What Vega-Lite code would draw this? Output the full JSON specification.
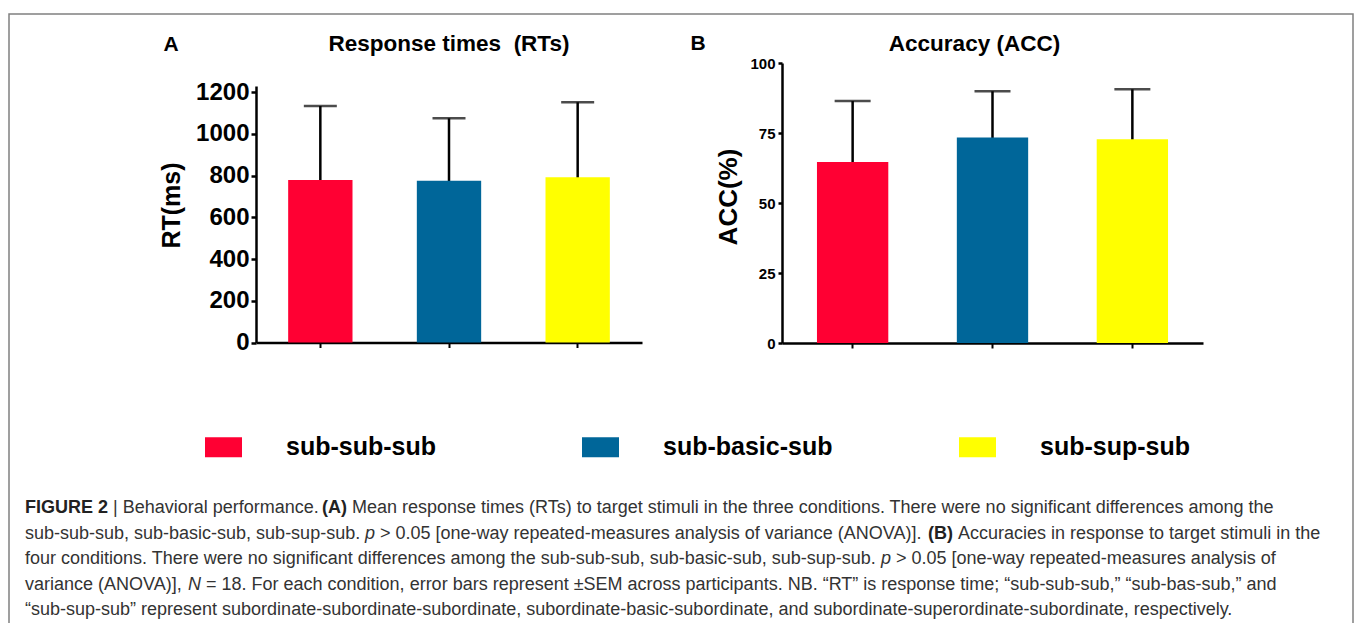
{
  "$schema": "https://vega.github.io/schema/vega-lite/v6.json",
  "width": 1344,
  "height": 620,
  "autosize": {"type": "none"},
  "padding": {"left": 9, "top": 14, "right": 2, "bottom": 0},
  "background": "white",
  "datasets": {
    "bars": [
      {"panel": "RT", "cond": "sub-sub-sub", "mean": 779, "sem": 355},
      {"panel": "RT", "cond": "sub-basic-sub", "mean": 776, "sem": 299},
      {"panel": "RT", "cond": "sub-sup-sub", "mean": 792, "sem": 360},
      {"panel": "ACC", "cond": "sub-sub-sub", "mean": 64.6, "sem": 21.8},
      {"panel": "ACC", "cond": "sub-basic-sub", "mean": 73.4, "sem": 16.5},
      {"panel": "ACC", "cond": "sub-sup-sub", "mean": 72.8, "sem": 17.8}
    ]
  },
  "layer": [
    {
      "data": {"name": "bars"},
      "transform": [{"filter": "datum.panel === 'RT'"}],
      "mark": {"type": "errorbar", "ticks": true, "size": 33, "thickness": 2.5, "color": "black"},
      "encoding": {
        "x": {"field": "cond", "type": "nominal",
          "scale": {"type": "band", "domain": ["sub-sub-sub", "sub-basic-sub", "sub-sup-sub"], "range": [247, 633], "paddingInner": 0.5, "paddingOuter": 0.25},
          "axis": {"orient": "bottom", "offset": -291.5, "domain": false, "ticks": false, "labels": false, "grid": false,
            "title": "A", "titleX": 161.5, "titleY": -298.5, "titleAngle": 0, "titleAlign": "center", "titleBaseline": "middle",
            "titleFont": "Liberation Sans", "titleFontSize": 21, "titleFontWeight": "bold", "titleColor": "black"}},
        "y": {"field": "mean", "type": "quantitative", "scale": {"domain": [0, 1230], "range": [328.5, 72], "nice": false}, "axis": null},
        "yError": {"field": "sem"}
      }
    },
    {
      "data": {"name": "bars"},
      "transform": [{"filter": "datum.panel === 'RT'"}],
      "mark": {"type": "bar"},
      "encoding": {
        "x": {"field": "cond", "type": "nominal",
          "scale": {"type": "band", "domain": ["sub-sub-sub", "sub-basic-sub", "sub-sup-sub"], "range": [247, 633], "paddingInner": 0.5, "paddingOuter": 0.25},
          "axis": {"orient": "bottom", "offset": -291.5, "labels": false, "grid": false,
            "domainColor": "black", "domainWidth": 2.5, "tickColor": "black", "tickWidth": 2, "tickSize": 5,
            "title": "Response times\u00a0 (RTs)", "titleX": 439.5, "titleY": -299.5, "titleAngle": 0, "titleAlign": "center", "titleBaseline": "middle",
            "titleFont": "Liberation Sans", "titleFontSize": 22.5, "titleFontWeight": "bold", "titleColor": "black"}},
        "y": {"field": "mean", "type": "quantitative",
          "scale": {"domain": [0, 1230], "range": [328.5, 72], "nice": false},
          "axis": {"orient": "left", "offset": -247, "values": [0, 200, 400, 600, 800, 1000, 1200], "format": "d", "grid": false,
            "labelFont": "Liberation Sans", "labelFontSize": 24, "labelFontWeight": "bold", "labelColor": "black", "labelPadding": 2, "labelOverlap": false, "labelFlush": false,
            "tickSize": 5, "tickWidth": 2.5, "tickColor": "black", "domainColor": "black", "domainWidth": 2.5,
            "title": "RT(ms)", "titleX": -84.5, "titleY": 191, "titleAngle": -90, "titleAlign": "center", "titleBaseline": "middle",
            "titleFont": "Liberation Sans", "titleFontSize": 25, "titleFontWeight": "bold", "titleColor": "black"}},
        "color": {"field": "cond", "type": "nominal",
          "scale": {"domain": ["sub-sub-sub", "sub-basic-sub", "sub-sup-sub"], "range": ["#FF0033", "#006699", "#FFFF00"]},
          "legend": {"orient": "none", "legendX": 196, "legendY": 414.5, "direction": "horizontal", "columns": 3, "title": null, "gridAlign": "all",
            "symbolType": "M-1,-0.54H1V0.54H-1Z", "symbolSize": 1369, "symbolStrokeWidth": 0, "symbolOpacity": 1,
            "labelFont": "Liberation Sans", "labelFontSize": 25, "labelFontWeight": "bold", "labelColor": "black", "labelOffset": 44, "labelLimit": 400,
            "columnPadding": 126, "padding": 0}}
      }
    },
    {
      "data": {"name": "bars"},
      "transform": [{"filter": "datum.panel === 'ACC'"}],
      "mark": {"type": "errorbar", "ticks": true, "size": 36, "thickness": 2.5, "color": "black"},
      "encoding": {
        "x": {"field": "cond", "type": "nominal",
          "scale": {"type": "band", "domain": ["sub-sub-sub", "sub-basic-sub", "sub-sup-sub"], "range": [773, 1194], "paddingInner": 0.49, "paddingOuter": 0.25},
          "axis": {"orient": "bottom", "offset": -291, "domain": false, "ticks": false, "labels": false, "grid": false,
            "title": "B", "titleX": 688.5, "titleY": -300, "titleAngle": 0, "titleAlign": "center", "titleBaseline": "middle",
            "titleFont": "Liberation Sans", "titleFontSize": 21, "titleFontWeight": "bold", "titleColor": "black"}},
        "y": {"field": "mean", "type": "quantitative", "scale": {"domain": [0, 100], "range": [329, 49], "nice": false}, "axis": null},
        "yError": {"field": "sem"}
      }
    },
    {
      "data": {"name": "bars"},
      "transform": [{"filter": "datum.panel === 'ACC'"}],
      "mark": {"type": "bar"},
      "encoding": {
        "x": {"field": "cond", "type": "nominal",
          "scale": {"type": "band", "domain": ["sub-sub-sub", "sub-basic-sub", "sub-sup-sub"], "range": [773, 1194], "paddingInner": 0.49, "paddingOuter": 0.25},
          "axis": {"orient": "bottom", "offset": -291, "labels": false, "grid": false,
            "domainColor": "black", "domainWidth": 2.5, "tickColor": "black", "tickWidth": 2, "tickSize": 5,
            "title": "Accuracy (ACC)", "titleX": 965, "titleY": -300, "titleAngle": 0, "titleAlign": "center", "titleBaseline": "middle",
            "titleFont": "Liberation Sans", "titleFontSize": 22.5, "titleFontWeight": "bold", "titleColor": "black"}},
        "y": {"field": "mean", "type": "quantitative",
          "scale": {"domain": [0, 100], "range": [329, 49], "nice": false},
          "axis": {"orient": "left", "offset": -773, "values": [0, 25, 50, 75, 100], "grid": false,
            "labelFont": "Liberation Sans", "labelFontSize": 15, "labelFontWeight": "bold", "labelColor": "black", "labelPadding": 3, "labelOverlap": false, "labelFlush": false,
            "tickSize": 4, "tickWidth": 2.5, "tickColor": "black", "domainColor": "black", "domainWidth": 2.5,
            "title": "ACC(%)", "titleX": -54, "titleY": 182.5, "titleAngle": -90, "titleAlign": "center", "titleBaseline": "middle",
            "titleFont": "Liberation Sans", "titleFontSize": 26, "titleFontWeight": "bold", "titleColor": "black"}},
        "color": {"field": "cond", "type": "nominal",
          "scale": {"domain": ["sub-sub-sub", "sub-basic-sub", "sub-sup-sub"], "range": ["#FF0033", "#006699", "#FFFF00"]},
          "legend": {"orient": "none", "legendX": 196, "legendY": 414.5, "direction": "horizontal", "columns": 3, "title": null, "gridAlign": "all",
            "symbolType": "M-1,-0.54H1V0.54H-1Z", "symbolSize": 1369, "symbolStrokeWidth": 0, "symbolOpacity": 1,
            "labelFont": "Liberation Sans", "labelFontSize": 25, "labelFontWeight": "bold", "labelColor": "black", "labelOffset": 44, "labelLimit": 400,
            "columnPadding": 126, "padding": 0}}
      }
    },
    {
      "data": {"values": [
        {"line": 2, "text": "sub-sub-sub, sub-basic-sub, sub-sup-sub."},
        {"line": 3, "text": "four conditions. There were no significant differences among the sub-sub-sub, sub-basic-sub, sub-sup-sub."},
        {"line": 4, "text": "variance (ANOVA)],"},
        {"line": 5, "text": "“sub-sup-sub” represent subordinate-subordinate-subordinate, subordinate-basic-subordinate, and subordinate-superordinate-subordinate, respectively."}
      ]},
      "mark": {"type": "text"},
      "encoding": {"x": {"value": 16}, "y": {"field": "line", "type": "ordinal", "scale": {"domain": [1, 2, 3, 4, 5], "range": [494, 596], "padding": 0}, "axis": null}, "text": {"field": "text"}}
    },
    {
      "data": {"values": [{"line": 1, "text": "FIGURE 2"}]},
      "mark": {"type": "text", "fontWeight": "bold", "color": "#222222"},
      "encoding": {"x": {"value": 16}, "y": {"field": "line", "type": "ordinal", "scale": {"domain": [1, 2, 3, 4, 5], "range": [494, 596], "padding": 0}, "axis": null}, "text": {"field": "text"}}
    },
    {
      "data": {"values": [{"line": 1, "text": "|  Behavioral performance."}]},
      "mark": {"type": "text"},
      "encoding": {"x": {"value": 104}, "y": {"field": "line", "type": "ordinal", "scale": {"domain": [1, 2, 3, 4, 5], "range": [494, 596], "padding": 0}, "axis": null}, "text": {"field": "text"}}
    },
    {
      "data": {"values": [{"line": 1, "text": "(A)"}]},
      "mark": {"type": "text", "fontWeight": "bold", "color": "#222222"},
      "encoding": {"x": {"value": 313}, "y": {"field": "line", "type": "ordinal", "scale": {"domain": [1, 2, 3, 4, 5], "range": [494, 596], "padding": 0}, "axis": null}, "text": {"field": "text"}}
    },
    {
      "data": {"values": [{"line": 1, "text": "Mean response times (RTs) to target stimuli in the three conditions. There were no significant differences among the"}]},
      "mark": {"type": "text"},
      "encoding": {"x": {"value": 343}, "y": {"field": "line", "type": "ordinal", "scale": {"domain": [1, 2, 3, 4, 5], "range": [494, 596], "padding": 0}, "axis": null}, "text": {"field": "text"}}
    },
    {
      "data": {"values": [{"line": 2, "text": "p"}]},
      "mark": {"type": "text", "fontStyle": "italic"},
      "encoding": {"x": {"value": 356}, "y": {"field": "line", "type": "ordinal", "scale": {"domain": [1, 2, 3, 4, 5], "range": [494, 596], "padding": 0}, "axis": null}, "text": {"field": "text"}}
    },
    {
      "data": {"values": [{"line": 2, "text": "> 0.05 [one-way repeated-measures analysis of variance (ANOVA)]."}]},
      "mark": {"type": "text"},
      "encoding": {"x": {"value": 371}, "y": {"field": "line", "type": "ordinal", "scale": {"domain": [1, 2, 3, 4, 5], "range": [494, 596], "padding": 0}, "axis": null}, "text": {"field": "text"}}
    },
    {
      "data": {"values": [{"line": 2, "text": "(B)"}]},
      "mark": {"type": "text", "fontWeight": "bold", "color": "#222222"},
      "encoding": {"x": {"value": 919}, "y": {"field": "line", "type": "ordinal", "scale": {"domain": [1, 2, 3, 4, 5], "range": [494, 596], "padding": 0}, "axis": null}, "text": {"field": "text"}}
    },
    {
      "data": {"values": [{"line": 2, "text": "Accuracies in response to target stimuli in the"}]},
      "mark": {"type": "text"},
      "encoding": {"x": {"value": 949}, "y": {"field": "line", "type": "ordinal", "scale": {"domain": [1, 2, 3, 4, 5], "range": [494, 596], "padding": 0}, "axis": null}, "text": {"field": "text"}}
    },
    {
      "data": {"values": [{"line": 3, "text": "p"}]},
      "mark": {"type": "text", "fontStyle": "italic"},
      "encoding": {"x": {"value": 872}, "y": {"field": "line", "type": "ordinal", "scale": {"domain": [1, 2, 3, 4, 5], "range": [494, 596], "padding": 0}, "axis": null}, "text": {"field": "text"}}
    },
    {
      "data": {"values": [{"line": 3, "text": "> 0.05 [one-way repeated-measures analysis of"}]},
      "mark": {"type": "text"},
      "encoding": {"x": {"value": 887}, "y": {"field": "line", "type": "ordinal", "scale": {"domain": [1, 2, 3, 4, 5], "range": [494, 596], "padding": 0}, "axis": null}, "text": {"field": "text"}}
    },
    {
      "data": {"values": [{"line": 4, "text": "N"}]},
      "mark": {"type": "text", "fontStyle": "italic"},
      "encoding": {"x": {"value": 179}, "y": {"field": "line", "type": "ordinal", "scale": {"domain": [1, 2, 3, 4, 5], "range": [494, 596], "padding": 0}, "axis": null}, "text": {"field": "text"}}
    },
    {
      "data": {"values": [{"line": 4, "text": "= 18. For each condition, error bars represent ±SEM across participants. NB. “RT” is response time; “sub-sub-sub,” “sub-bas-sub,” and"}]},
      "mark": {"type": "text"},
      "encoding": {"x": {"value": 197}, "y": {"field": "line", "type": "ordinal", "scale": {"domain": [1, 2, 3, 4, 5], "range": [494, 596], "padding": 0}, "axis": null}, "text": {"field": "text"}}
    }
  ],
  "resolve": {
    "scale": {"x": "independent", "y": "independent"},
    "axis": {"x": "independent", "y": "independent"}
  },
  "config": {
    "view": {"stroke": "#808080", "strokeWidth": 1.5},
    "axis": {"grid": false},
    "text": {"align": "left", "baseline": "middle", "font": "Liberation Sans", "fontSize": 18, "color": "#333333"}
  }
}
